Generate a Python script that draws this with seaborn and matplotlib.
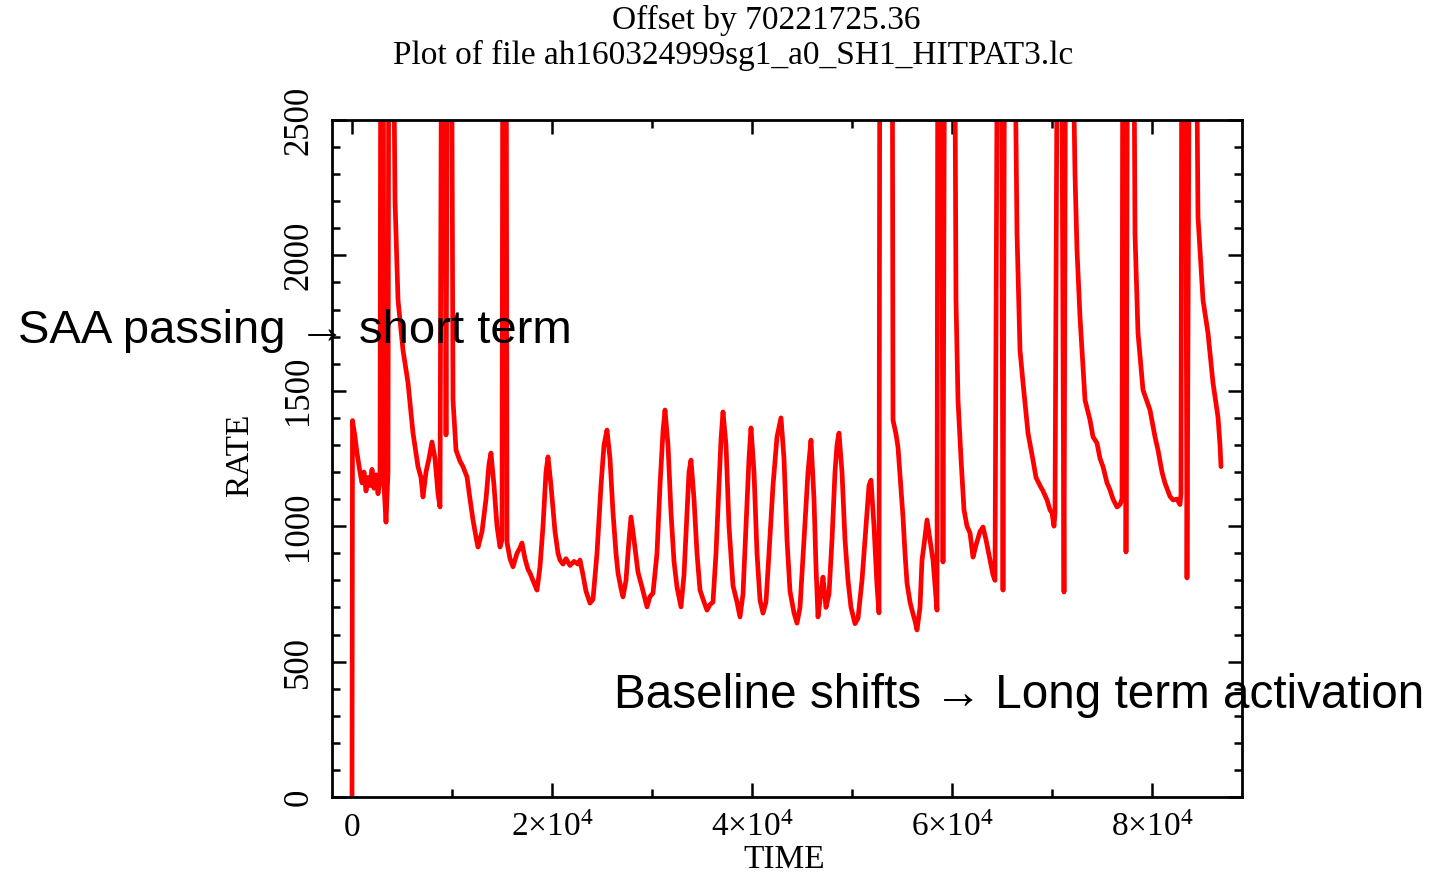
import numpy as np
import pandas as pd
import seaborn as sns
import matplotlib.pyplot as plt
from matplotlib.ticker import MultipleLocator, FixedLocator, FixedFormatter

# light curve (values above 2500 are clipped spikes)
time = [0, 50, 300, 500, 800, 1000, 1200, 1400, 1600, 1800, 2000, 2200, 2400, 2600, 2800,
        2900, 3100, 3200, 3400, 3600, 3700, 4000, 4300, 4600, 5100, 5600, 6100, 6600, 6900,
        7100, 7400, 7700, 8000, 8300, 8600, 8800, 9000, 9200, 9400, 9600, 9900, 10100, 10400,
        10800, 11100, 11500, 11800, 12100, 12400, 12600, 13000, 13400, 13700, 13900, 14200,
        14500, 14800, 15000, 15100, 15400, 15500, 15800, 16100, 16500, 16800, 17000, 17300,
        17600, 17800, 18200, 18500, 18800, 19100, 19400, 19600, 19900, 20300, 20600, 20800,
        21100, 21400, 21800, 22200, 22600, 22800, 23100, 23400, 23800, 24100, 24500, 24900,
        25200, 25500, 25800, 26100, 26400, 26600, 26900, 27100, 27400, 27700, 27900, 28200,
        28600, 29000, 29500, 29800, 30100, 30500, 30800, 31100, 31300, 31600, 31900, 32200,
        32500, 32900, 33200, 33500, 33700, 33900, 34200, 34500, 34800, 35200, 35500, 35800,
        36100, 36400, 36700, 36900, 37100, 37400, 37700, 38100, 38500, 38800, 39100, 39400,
        39700, 39900, 40200, 40500, 40800, 41100, 41400, 41700, 42100, 42500, 42900, 43200,
        43500, 43800, 44200, 44500, 44800, 45200, 45600, 45900, 46200, 46400, 46600, 46900,
        47100, 47400, 47700, 48000, 48300, 48500, 48700, 49000, 49300, 49600, 49900, 50300,
        50600, 51000, 51400, 51700, 51900, 52200, 52500, 52700, 52800, 54000, 54100, 54400,
        54600, 55100, 55300, 55500, 55800, 56000, 56300, 56500, 56800, 57000, 57200, 57500,
        57800, 58100, 58300, 58500, 58600, 58900, 59100, 59300, 60200, 60400, 60600, 60900,
        61200, 61500, 61800, 62100, 62400, 62800, 63100, 63400, 63800, 64100, 64300, 64600,
        64900, 65100, 65300, 66100, 66500, 66800, 67100, 67600, 68100, 68400, 68800, 69100,
        69500, 69800, 70000, 70200, 70300, 70600, 70900, 71200, 71400, 71800, 72300, 72500,
        72800, 73300, 73800, 74100, 74500, 74800, 75100, 75500, 75800, 76100, 76500, 76800,
        77000, 77100, 77300, 77400, 77600, 78100, 78300, 78600, 79100, 79800, 80300, 80600,
        81000, 81300, 81800, 82100, 82500, 82800, 82900, 83000, 83300, 83500, 83800, 84300,
        84600, 85100, 85600, 86100, 86600, 86800, 86900]
rate = [0, 1390, 1330, 1270, 1200, 1160, 1200, 1130, 1180, 1150, 1210, 1140, 1190, 1120, 1170,
        3500, 3500, 1150, 1015, 1200, 3500, 3500, 2205, 1835, 1650, 1530, 1344, 1220, 1180,
        1108, 1200, 1250, 1311, 1250, 1120, 1071, 3500, 3500, 1337, 3500, 3500, 1466, 1281,
        1240, 1220, 1182, 1100, 1023, 960, 923, 980, 1100, 1230, 1270, 1150,
        1000, 923, 950, 3500, 3500, 940, 880, 850, 900, 920, 938, 880,
        840, 827, 790, 764, 850, 1000, 1200, 1256, 1150, 980, 900, 875,
        860, 880, 855, 870, 860, 875, 820, 760, 716, 730, 900, 1150,
        1300, 1355, 1250, 1050, 900, 827, 770, 739, 800, 950, 1034, 950,
        830, 775, 702, 740, 753, 900, 1150, 1350, 1429, 1300, 1050, 870,
        775, 702, 820, 1050, 1200, 1244, 1100, 900, 764, 720, 690, 710,
        720, 900, 1150, 1320, 1422, 1300, 1000, 780, 720, 665, 750, 1000,
        1250, 1363, 1200, 900, 727, 679, 720, 900, 1150, 1330, 1400, 1250,
        950, 760, 680, 642, 700, 950, 1200, 1318, 1100, 850, 665, 760,
        812, 700, 750, 950, 1200, 1300, 1344, 1200, 950, 800, 700, 640,
        660, 800, 1000, 1150, 1170, 1000, 780, 680, 3500, 3500, 1392, 1340,
        1292, 1034, 900, 790, 720, 690, 650, 617, 700, 875, 930, 1023,
        950, 875, 780, 690, 3500, 3500, 868, 3500, 3500, 1835, 1466, 1250,
        1060, 1000, 975, 886, 930, 980, 997, 950, 875, 820, 800, 3500,
        3500, 764, 3500, 3500, 2083, 1650, 1530, 1344, 1244, 1180, 1150, 1130,
        1097, 1060, 1049, 1000, 1050, 3500, 3500, 757, 3500, 3500, 2300, 2020,
        1773, 1466, 1392, 1330, 1307, 1250, 1220, 1160, 1134, 1100, 1071, 1080,
        1100, 3500, 3500, 905, 3500, 3500, 2080, 1713, 1503, 1429, 1330, 1281,
        1200, 1159, 1110, 1097, 1100, 1080, 1120, 3500, 3500, 809, 3500, 3500,
        2142, 1835, 1713, 1529, 1403, 1300, 1220]

x_ticks = [0, 20000, 40000, 60000, 80000]
x_labels = ['0', r'$2{\times}10^4$', r'$4{\times}10^4$', r'$6{\times}10^4$', r'$8{\times}10^4$']
y_ticks = [0, 500, 1000, 1500, 2000, 2500]

df = pd.DataFrame({'TIME': time, 'RATE': rate})

sns.set_style('ticks')
plt.rcParams['font.family'] = ['Liberation Serif', 'DejaVu Serif']
plt.rcParams['mathtext.fontset'] = 'custom'
plt.rcParams['mathtext.rm'] = 'Liberation Serif'
plt.rcParams['mathtext.it'] = 'Liberation Serif:italic'
plt.rcParams['text.color'] = 'black'
plt.rcParams['axes.labelcolor'] = 'black'
plt.rcParams['xtick.color'] = 'black'
plt.rcParams['ytick.color'] = 'black'

fig = plt.figure(figsize=(14.55, 8.74), dpi=100)
ax = fig.add_axes([332 / 1455, 1 - 797 / 874, 910 / 1455, 677 / 874])

sns.lineplot(data=df, x='TIME', y='RATE', sort=False, estimator=None,
             color='#ff0000', linewidth=3.4, ax=ax)

ax.set_xlim(-2000, 89000)
ax.set_ylim(0, 2500)
ax.xaxis.set_major_locator(FixedLocator(x_ticks))
ax.xaxis.set_major_formatter(FixedFormatter(x_labels))
ax.xaxis.set_minor_locator(MultipleLocator(10000))
ax.yaxis.set_major_locator(FixedLocator(y_ticks))
ax.yaxis.set_minor_locator(MultipleLocator(100))

ax.tick_params(which='both', direction='in', top=True, right=True, width=1.8, color='black')
ax.tick_params(which='major', length=10)
ax.tick_params(which='minor', length=6)
ax.tick_params(axis='x', which='major', labelsize=24, pad=11)
ax.tick_params(axis='y', which='major', labelsize=25, pad=12)
for lab in ax.get_yticklabels():
    lab.set_rotation(90)
    lab.set_va('center')
for sp in ax.spines.values():
    sp.set_linewidth(2)
    sp.set_color('black')

ax.set_xlabel('TIME', fontsize=24)
ax.set_ylabel('RATE', fontsize=24)
ax.xaxis.set_label_coords((784 - 332) / 910, -(844 - 797) / 677)
ax.yaxis.set_label_coords(-(332 - 255) / 910, 0.505)

fig.text(766 / 1455, 1 - 20 / 874, 'Offset by 70221725.36', ha='center', va='center', fontsize=24)
fig.text(733 / 1455, 1 - 55 / 874, 'Plot of file ah160324999sg1_a0_SH1_HITPAT3.lc',
         ha='center', va='center', fontsize=24)

fig.text(18 / 1455, 1 - 331 / 874, 'SAA passing \u2192 short term', ha='left', va='center',
         fontsize=34, family=['Liberation Sans', 'DejaVu Sans'], color='black')
fig.text(614 / 1455, 1 - 696 / 874, 'Baseline shifts \u2192 Long term activation', ha='left',
         va='center', fontsize=34.3, family=['Liberation Sans', 'DejaVu Sans'], color='black')

fig.savefig('out.png', dpi=100)
